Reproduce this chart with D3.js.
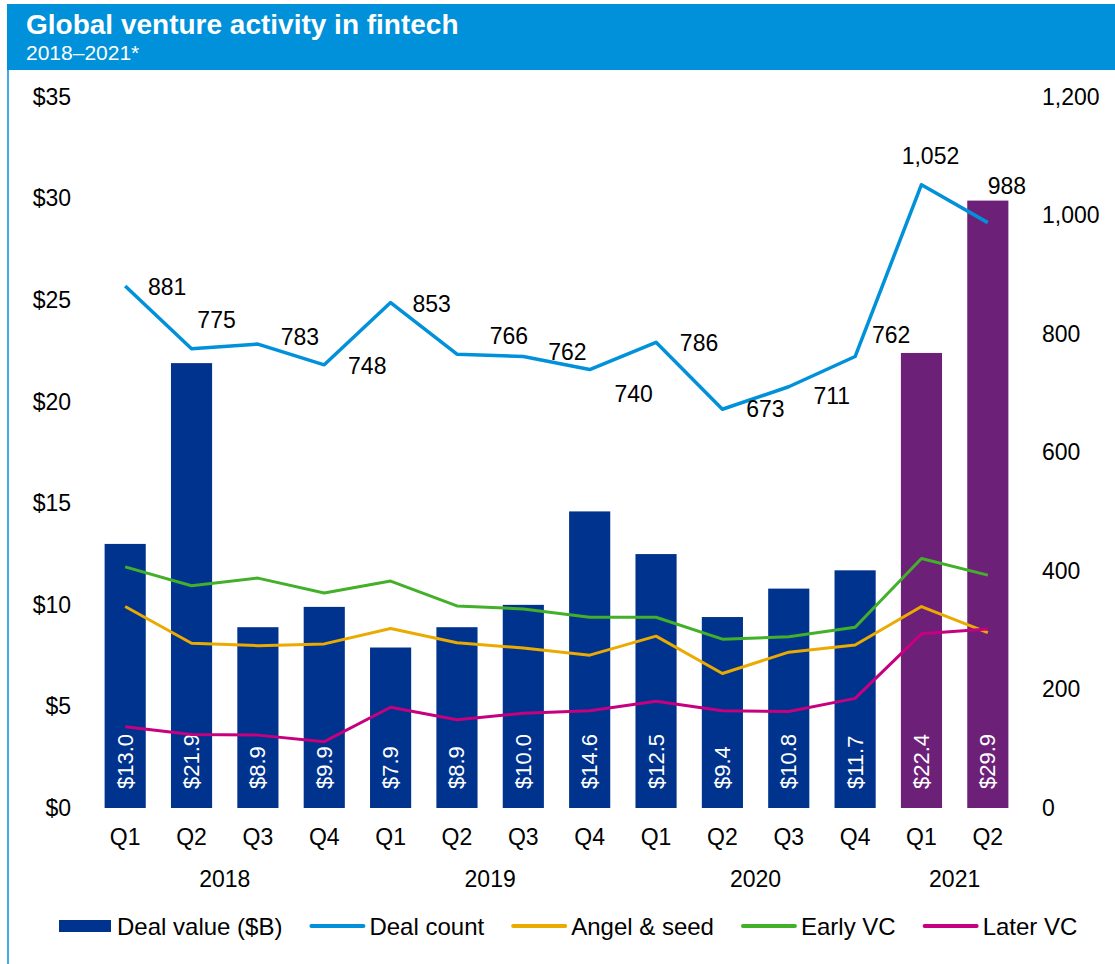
<!DOCTYPE html>
<html>
<head>
<meta charset="utf-8">
<script src="https://cdn.jsdelivr.net/npm/d3@7"></script>
<style>
  body { margin: 0; background: #fff; font-family: Arial, "Liberation Sans", sans-serif; }
  svg text { font-family: Arial, "Liberation Sans", sans-serif; }
</style>
</head>
<body>
<div id="chart"></div>
<script>
// Data
const quarters = ["Q1", "Q2", "Q3", "Q4", "Q1", "Q2", "Q3", "Q4", "Q1", "Q2", "Q3", "Q4", "Q1", "Q2"];
const years = ["2018", "2018", "2018", "2018", "2019", "2019", "2019", "2019", "2020", "2020", "2020", "2020", "2021", "2021"];
const dealValue = [13.0, 21.9, 8.9, 9.9, 7.9, 8.9, 10.0, 14.6, 12.5, 9.4, 10.8, 11.7, 22.4, 29.9];
const dealCount = [881, 775, 783, 748, 853, 766, 762, 740, 786, 673, 711, 762, 1052, 988];
const angelSeed = [340, 278, 274, 277, 303, 279, 270, 258, 290, 227, 263, 275, 340, 296];
const earlyVC = [407, 375, 388, 363, 383, 341, 336, 322, 322, 285, 289, 305, 421, 393];
const laterVC = [137, 124, 123, 112, 170, 149, 160, 164, 180, 164, 163, 185, 294, 302];
const leftTicks = [0, 5, 10, 15, 20, 25, 30, 35];
const rightTicks = [0, 200, 400, 600, 800, 1000, 1200];

// Where each deal count label sits relative to its point (dx, dy)
const countLabelNudge = [[42, 1], [25, -29], [42, -7], [43, 1], [41, 1], [52, -18], [44, -5],
  [44, 24], [43, 1], [43, 0], [43, 9], [36, -22], [9, -29], [19, -37]];

const W = 1115, H = 964;
const blue = "#0091DA", navy = "#00338D", purple = "#6D2077";
const lineColors = { count: "#0091DA", angel: "#EAAA00", early: "#43B02A", later: "#C6007E" };

const svg = d3.select("#chart").append("svg")
    .attr("width", W)
    .attr("height", H);

// Header band
svg.append("rect")
    .attr("x", 7).attr("y", 4)
    .attr("width", W - 7).attr("height", 66)
    .attr("fill", blue);
svg.append("line")
    .attr("x1", 8).attr("x2", 8)
    .attr("y1", 4).attr("y2", H)
    .attr("stroke", blue).attr("stroke-width", 1.5);
svg.append("text")
    .attr("x", 26).attr("y", 34)
    .attr("fill", "#fff")
    .style("font-size", "28px").style("font-weight", "bold")
    .text("Global venture activity in fintech");
svg.append("text")
    .attr("x", 26).attr("y", 60)
    .attr("fill", "#fff")
    .style("font-size", "21px")
    .text("2018–2021*");

// Scales
const idx = d3.range(quarters.length);
const x = d3.scaleBand().domain(idx).range([92, 1021]).paddingInner(0.38).paddingOuter(0.19);
const yL = d3.scaleLinear().domain([0, 35]).range([808, 97]);
const yR = d3.scaleLinear().domain([0, 1200]).range([808, 97]);

// Axes (labels only, no lines)
const leftAxis = svg.append("g")
    .attr("transform", "translate(71,0)")
    .call(d3.axisLeft(yL).tickValues(leftTicks).tickSize(0).tickPadding(0).tickFormat(d => "$" + d));
const rightAxis = svg.append("g")
    .attr("transform", "translate(1042,0)")
    .call(d3.axisRight(yR).tickValues(rightTicks).tickSize(0).tickPadding(0).tickFormat(d3.format(",")));
[leftAxis, rightAxis].forEach(g => {
  g.select(".domain").remove();
  g.selectAll("text").style("font-size", "23px").attr("fill", "#000");
});

// Bars
svg.selectAll(".bar")
  .data(idx)
  .enter().append("rect")
    .attr("class", "bar")
    .attr("x", i => x(i))
    .attr("width", x.bandwidth())
    .attr("y", i => yL(dealValue[i]))
    .attr("height", i => yL(0) - yL(dealValue[i]))
    .attr("fill", i => years[i] === "2021" ? purple : navy);

// Bar value labels (rotated)
svg.selectAll(".barLabel")
  .data(idx)
  .enter().append("text")
    .attr("class", "barLabel")
    .attr("transform", i => `translate(${x(i) + x.bandwidth() / 2},${yL(0) - 19}) rotate(-90)`)
    .attr("dominant-baseline", "central")
    .attr("fill", "#fff")
    .style("font-size", "22px")
    .text(i => "$" + dealValue[i].toFixed(1));

// Lines
const cx = i => x(i) + x.bandwidth() / 2;
const series = [
  { vals: angelSeed, color: lineColors.angel, w: 3 },
  { vals: earlyVC, color: lineColors.early, w: 3 },
  { vals: laterVC, color: lineColors.later, w: 3 },
  { vals: dealCount, color: lineColors.count, w: 3.5 }
];
series.forEach(s => {
  svg.append("path")
      .datum(idx)
      .attr("fill", "none")
      .attr("stroke", s.color)
      .attr("stroke-width", s.w)
      .attr("stroke-linejoin", "round")
      .attr("d", d3.line().x(cx).y(i => yR(s.vals[i])));
});

// Deal count labels
svg.selectAll(".countLabel")
  .data(idx)
  .enter().append("text")
    .attr("class", "countLabel")
    .attr("x", i => cx(i) + countLabelNudge[i][0])
    .attr("y", i => yR(dealCount[i]) + countLabelNudge[i][1])
    .attr("text-anchor", "middle")
    .attr("dominant-baseline", "central")
    .style("font-size", "23px")
    .text(i => d3.format(",")(dealCount[i]));

// Quarter labels
svg.selectAll(".qLabel")
  .data(idx)
  .enter().append("text")
    .attr("class", "qLabel")
    .attr("x", cx)
    .attr("y", 837)
    .attr("text-anchor", "middle")
    .attr("dominant-baseline", "central")
    .style("font-size", "23px")
    .text(i => quarters[i]);

// Year labels, centred under each year's quarters
const yearGroups = d3.groups(idx, i => years[i]);
svg.selectAll(".yearLabel")
  .data(yearGroups)
  .enter().append("text")
    .attr("class", "yearLabel")
    .attr("x", d => d3.mean(d[1], cx))
    .attr("y", 879)
    .attr("text-anchor", "middle")
    .attr("dominant-baseline", "central")
    .style("font-size", "23px")
    .text(d => d[0]);

// Legend
const legendItems = [
  { label: "Deal value ($B)", color: navy, type: "rect" },
  { label: "Deal count", color: lineColors.count, type: "line" },
  { label: "Angel & seed", color: lineColors.angel, type: "line" },
  { label: "Early VC", color: lineColors.early, type: "line" },
  { label: "Later VC", color: lineColors.later, type: "line" }
];
const legend = svg.append("g").attr("transform", "translate(59,926)");
let lx = 0;
legendItems.forEach(item => {
  if (item.type === "rect") {
    legend.append("rect").attr("x", lx).attr("y", -6).attr("width", 52).attr("height", 12).attr("fill", item.color);
  } else {
    legend.append("line").attr("x1", lx).attr("x2", lx + 52).attr("y1", 0).attr("y2", 0)
        .attr("stroke", item.color).attr("stroke-width", 4).attr("stroke-linecap", "round");
  }
  const t = legend.append("text")
      .attr("x", lx + 58)
      .attr("y", 0)
      .attr("dominant-baseline", "central")
      .style("font-size", "24px")
      .text(item.label);
  lx += 58 + t.node().getComputedTextLength() + 29;
});
</script>
</body>
</html>
